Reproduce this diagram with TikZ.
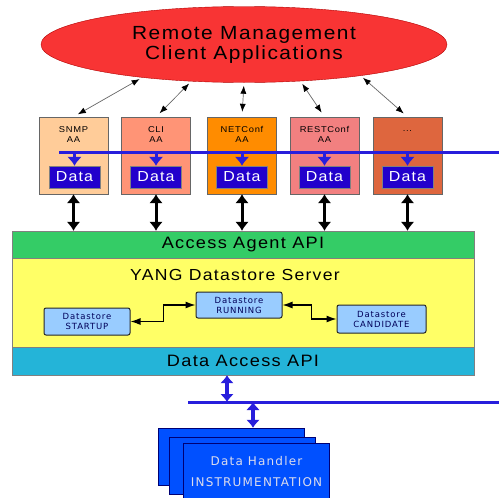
\documentclass[tikz,border=0pt]{standalone}
\usepackage{fontspec}
\setmainfont{Liberation Sans}[LetterSpace=8,FakeStretch=1.1]
\newfontfamily\verdfont{DejaVu Sans}[LetterSpace=10]
\usetikzlibrary{shapes.geometric}
\usetikzlibrary{arrows.meta}
\definecolor{rmred}{RGB}{248,52,52}
\definecolor{snmpc}{RGB}{255,204,153}
\definecolor{clic}{RGB}{255,148,118}
\definecolor{netc}{RGB}{255,140,0}
\definecolor{restc}{RGB}{242,128,128}
\definecolor{dotc}{RGB}{222,102,62}
\definecolor{datac}{RGB}{34,0,204}
\definecolor{busc}{RGB}{40,30,220}
\definecolor{aagreen}{RGB}{52,204,102}
\definecolor{yangy}{RGB}{255,255,102}
\definecolor{dsblue}{RGB}{153,204,255}
\definecolor{dacyan}{RGB}{36,180,216}
\definecolor{dhblue}{RGB}{0,80,255}

\begin{document}
\begin{tikzpicture}[x=1pt,y=-1pt,
		aa/.style={draw=gray!80!black,minimum width=69pt,minimum height=77pt,inner sep=0pt},
		lbl/.style={anchor=north,yshift=-6pt,align=center,font=\fontsize{8.5}{10}\selectfont},
		dbox/.style={draw=black!50,fill=datac,text=white,minimum width=51pt,minimum height=22pt,inner sep=0pt,font=\fontsize{14.5}{14}\selectfont},
		bar/.style={draw=gray,minimum width=462pt,inner sep=0pt,font=\fontsize{16.5}{16}\selectfont},
		ds/.style={draw=black!85,fill=dsblue,rounded corners=2pt,line width=1pt,inner sep=0pt,align=center,text=black!65!blue,font=\verdfont\fontsize{8.5}{10}\selectfont},
		dh/.style={draw=blue!45!black,fill=dhblue,minimum width=146pt,minimum height=57pt,inner sep=0pt},
		thinarr/.style={{Latex[length=8pt,width=6pt,color=black]}-{Latex[length=8pt,width=6pt,color=black]},draw=black!60,line width=0.7pt,shorten <=3pt,shorten >=5pt},
		bigarr/.style={{Latex[length=9pt,width=14pt]}-{Latex[length=9pt,width=14pt]},line width=3pt},
		busline/.style={draw=busc,line width=3pt},
		busarr/.style={-{Latex[length=9pt,width=15pt]},draw=busc,line width=3pt},
		bluearr/.style={{Latex[length=8pt,width=14pt]}-{Latex[length=8pt,width=14pt]},draw=busc,line width=3.5pt},
		dsarr/.style={{Latex[length=10pt,width=7pt]}-{Latex[length=10pt,width=7pt]},line width=1.2pt}]
	\useasboundingbox (0,0) rectangle (499,498);
	%% define clients
	\node (rm) at (244,44.5) [ellipse,fill=rmred,draw=red!70!black,minimum width=406pt,minimum height=76pt,inner sep=0pt,align=center,font=\fontsize{19}{20}\selectfont] {Remote Management\\Client Applications};
	%% define access agents
	\node (snmp) at (73.5,155.5) [aa,fill=snmpc,label={[lbl]north:SNMP\\AA}] {};
	\node (cli) at (156,155.5) [aa,fill=clic,label={[lbl]north:CLI\\AA}] {};
	\node (netc) at (242,155.5) [aa,fill=netc,label={[lbl]north:NETConf\\AA}] {};
	\node (rest) at (324.5,155.5) [aa,fill=restc,label={[lbl]north:RESTConf\\AA}] {};
	\node (more) at (407.5,155.5) [aa,fill=dotc,label={[lbl,yshift=-4pt]north:...}] {};
	\node (snmpd) at (74.5,177) [dbox] {Data};
	\node (clid) at (156,177) [dbox] {Data};
	\node (netcd) at (242,177) [dbox] {Data};
	\node (restd) at (324.5,177) [dbox] {Data};
	\node (mored) at (407.5,177) [dbox] {Data};
	%% define server
	\node (yang) at (243,302.5) [bar,fill=yangy,minimum height=89pt] {};
	\node (aaapi) at (243,244.5) [bar,fill=aagreen,minimum height=27pt] {Access Agent API};
	\node (daapi) at (243,361) [bar,fill=dacyan,minimum height=28pt] {Data Access API};
	\node (yanglbl) at (235,275) [font=\fontsize{16}{16}\selectfont] {YANG Datastore Server};
	\node (start) at (87,321.5) [ds,minimum width=86pt,minimum height=27pt] {Datastore\\STARTUP};
	\node (run) at (239,305) [ds,minimum width=86pt,minimum height=26pt] {Datastore\\RUNNING};
	\node (cand) at (381.5,319) [ds,minimum width=89pt,minimum height=28pt] {Datastore\\CANDIDATE};
	%% define handlers
	\node (dh1) at (231,456.5) [dh] {};
	\node (dh2) at (242.5,465.5) [dh] {};
	\node (dh3) at (256.5,472) [dh,align=center,text=blue!8!white!85!gray,font=\verdfont\fontsize{12}{21}\selectfont] {Data Handler\\INSTRUMENTATION};
	%% define buses
	\coordinate (bus1w) at (59,152);
	\coordinate (bus1e) at (499,152);
	\coordinate (bus2w) at (188,402);
	\coordinate (bus2e) at (499,402);
	\coordinate (daup) at ([xshift=-16pt]daapi.south);
	\coordinate (dhup) at ([xshift=22pt]dh1.north);
	%% define arrows
	\draw[thinarr] (rm.198) -- (snmp.north);
	\draw[thinarr] (rm.215) -- (cli.north);
	\draw[thinarr] (rm.south) -- (netc.north);
	\draw[thinarr] (rm.327) -- (rest.north);
	\draw[thinarr] (rm.345) -- (more.north);
	\draw[busline] (bus1w) -- (bus1e);
	\draw[busarr] (snmpd.north |- bus1w) -- (snmpd.north);
	\draw[busarr] (clid.north |- bus1w) -- (clid.north);
	\draw[busarr] (netcd.north |- bus1w) -- (netcd.north);
	\draw[busarr] (restd.north |- bus1w) -- (restd.north);
	\draw[busarr] (mored.north |- bus1w) -- (mored.north);
	\draw[bigarr] (snmp.south) -- (snmp.south |- aaapi.north);
	\draw[bigarr] (cli.south) -- (cli.south |- aaapi.north);
	\draw[bigarr] (netc.south) -- (netc.south |- aaapi.north);
	\draw[bigarr] (rest.south) -- (rest.south |- aaapi.north);
	\draw[bigarr] (more.south) -- (more.south |- aaapi.north);
	\draw[dsarr] (start.east) -- ++(33,0) |- (run.west);
	\draw[dsarr] (run.east) -- ++(29,0) |- (cand.west);
	\draw[busline] (bus2w) -- (bus2e);
	\draw[bluearr] (daup) -- (daup |- bus2w);
	\draw[bluearr] (dhup |- bus2w) -- (dhup);
\end{tikzpicture}
\end{document}
